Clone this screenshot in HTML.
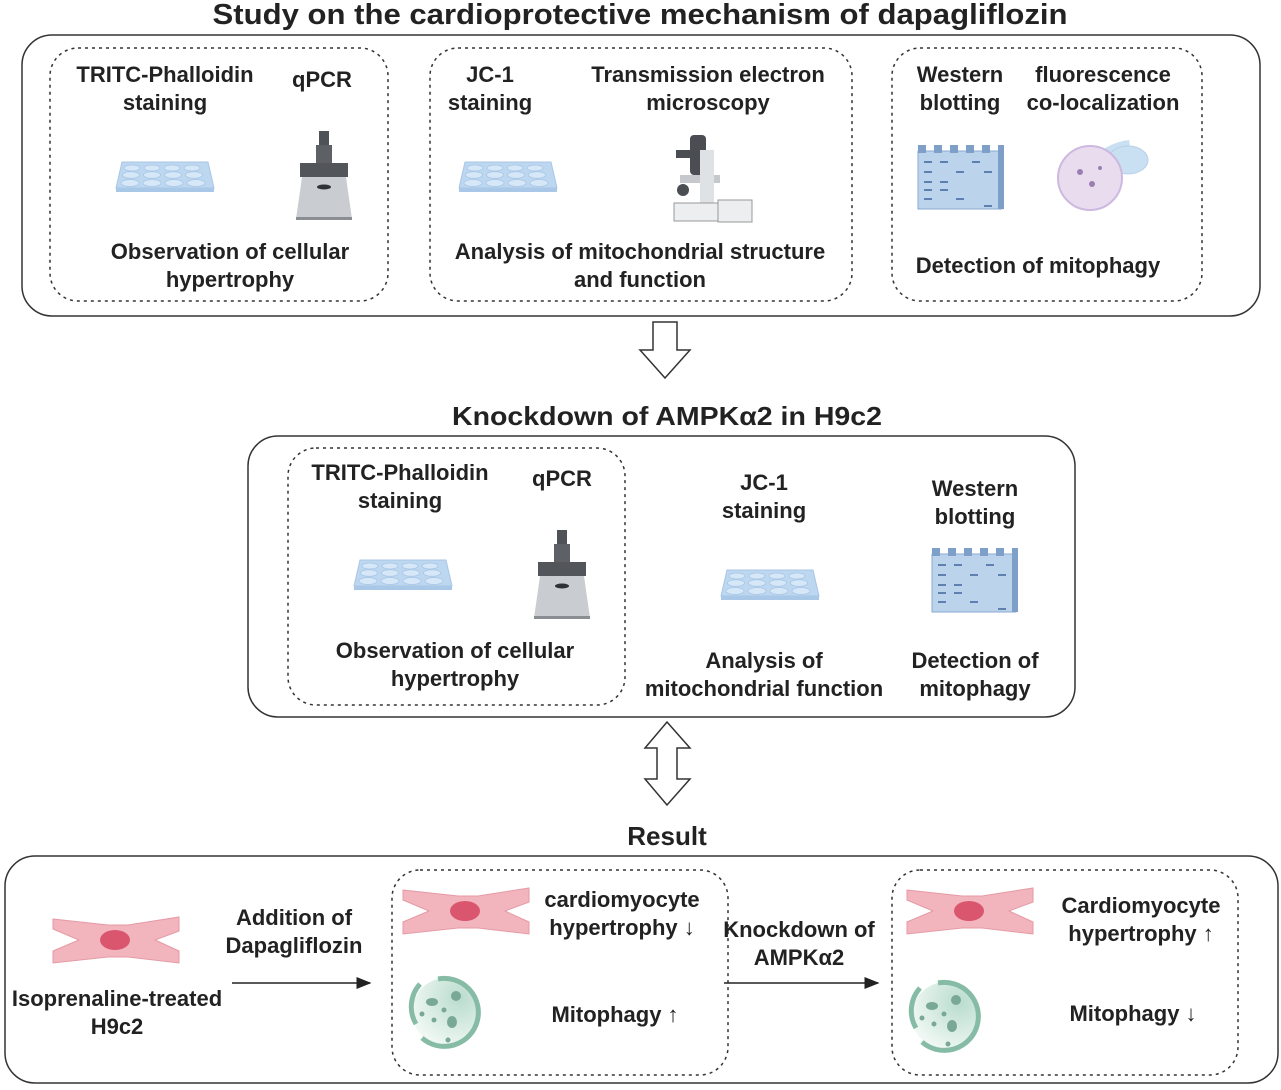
<!DOCTYPE html>
<html><head><meta charset="utf-8"><style>
body{margin:0;background:#fff}
svg text{font-family:"Liberation Sans",sans-serif;font-weight:bold;fill:#222;text-anchor:middle}
</style></head><body>
<svg width="1281" height="1085" viewBox="0 0 1281 1085" xmlns="http://www.w3.org/2000/svg">
<defs>
<radialGradient id="mg" cx="0.7" cy="0.3" r="0.8"><stop offset="0" stop-color="#b9dccd"/><stop offset="1" stop-color="#f4faf7"/></radialGradient>
<g id="plate"><path d="M0 0 L86 0 L92 26 L-6 26 Z" fill="#bcd7ef" stroke="#a8c6e6"/>
<rect x="-6" y="26" width="98" height="4" fill="#a9c7e6"/>
<g fill="#d6e8f8" stroke="#a8c6e6" stroke-width="0.8">
<ellipse cx="10" cy="6" rx="8" ry="3"/><ellipse cx="30" cy="6" rx="8" ry="3"/><ellipse cx="50" cy="6" rx="8" ry="3"/><ellipse cx="70" cy="6" rx="8" ry="3"/>
<ellipse cx="9" cy="13" rx="8.5" ry="3.3"/><ellipse cx="30" cy="13" rx="8.5" ry="3.3"/><ellipse cx="51" cy="13" rx="8.5" ry="3.3"/><ellipse cx="72" cy="13" rx="8.5" ry="3.3"/>
<ellipse cx="8" cy="21" rx="9" ry="3.5"/><ellipse cx="30" cy="21" rx="9" ry="3.5"/><ellipse cx="52" cy="21" rx="9" ry="3.5"/><ellipse cx="74" cy="21" rx="9" ry="3.5"/></g></g>
<g id="qpcr"><rect x="19" y="0" width="10" height="14" fill="#4f5358"/><rect x="16" y="14" width="16" height="18" fill="#5d6166"/>
<rect x="0" y="32" width="48" height="14" fill="#52565b"/><path d="M2 46 L46 46 L52 88 L-4 88 Z" fill="#c9ccd0"/>
<ellipse cx="24" cy="56" rx="7" ry="2.5" fill="#2f3236"/><rect x="-4" y="86" width="56" height="3" fill="#8a8d91"/></g>
<g id="wb"><rect x="0" y="6" width="84" height="58" fill="#bcd3ec" stroke="#8aaad0"/>
<path d="M0 0h8v8h-8zM16 0h8v8h-8zM32 0h8v8h-8zM48 0h8v8h-8zM64 0h8v8h-8z" fill="#7e9fc8"/>
<rect x="80" y="0" width="6" height="64" fill="#7e9fc8"/>
<g fill="#5f7fb0"><rect x="6" y="16" width="8" height="2"/><rect x="22" y="16" width="8" height="2"/><rect x="54" y="16" width="8" height="2"/><rect x="6" y="26" width="8" height="2"/><rect x="38" y="26" width="8" height="2"/><rect x="66" y="26" width="8" height="2"/><rect x="6" y="36" width="8" height="2"/><rect x="22" y="36" width="8" height="2"/><rect x="6" y="44" width="8" height="2"/><rect x="22" y="44" width="8" height="2"/><rect x="6" y="53" width="8" height="2"/><rect x="38" y="53" width="8" height="2"/><rect x="66" y="60" width="8" height="2"/></g></g>
<g id="cell"><path d="M0 2 L55 8 L75 8 L126 0 L126 14 L102 23 L126 34 L126 46 L75 40 L55 40 L0 46 L0 34 L26 23 L0 12 Z" fill="#f2b5bd" stroke="#e59aa5"/>
<ellipse cx="62" cy="23" rx="15" ry="10" fill="#d9566e"/></g>
<g id="mito"><circle cx="38" cy="38" r="34" fill="url(#mg)"/>
<path d="M30 5 A34 34 0 1 1 14 64" fill="none" stroke="#86bca6" stroke-width="5"/>
<path d="M12 10 A34 34 0 0 0 8 50" fill="none" stroke="#86bca6" stroke-width="5"/>
<g fill="#7aa896"><ellipse cx="24" cy="28" rx="6" ry="4"/><ellipse cx="44" cy="48" rx="5" ry="6"/><ellipse cx="48" cy="22" rx="5" ry="5"/><circle cx="14" cy="40" r="2.5"/><circle cx="26" cy="46" r="2.5"/><circle cx="36" cy="36" r="2.5"/><circle cx="40" cy="66" r="2.5"/></g></g>
<marker id="ah" markerWidth="10" markerHeight="10" refX="9" refY="5" orient="auto"><path d="M0 1 L10 5 L0 9 Z" fill="#222"/></marker>
</defs>

<text x="640" y="24" font-size="29" textLength="855" lengthAdjust="spacingAndGlyphs">Study on the  cardioprotective mechanism of  dapagliflozin</text>
<rect x="22" y="35" width="1238" height="281" rx="30" fill="none" stroke="#333" stroke-width="1.5"/>
<g fill="none" stroke="#333" stroke-width="1.5" stroke-dasharray="3,4">
<rect x="50" y="48" width="338" height="253" rx="28"/>
<rect x="430" y="48" width="422" height="253" rx="28"/>
<rect x="892" y="48" width="310" height="253" rx="28"/>
<rect x="288" y="448" width="337" height="257" rx="28"/>
<rect x="392" y="870" width="336" height="205" rx="28"/>
<rect x="892" y="870" width="346" height="205" rx="28"/>
</g>
<g font-size="22">
<text x="165" y="82">TRITC-Phalloidin</text><text x="165" y="110">staining</text>
<text x="322" y="87">qPCR</text>
<text x="230" y="259">Observation of cellular</text><text x="230" y="287">hypertrophy</text>
<text x="490" y="82">JC-1</text><text x="490" y="110">staining</text>
<text x="708" y="82">Transmission electron</text><text x="708" y="110">microscopy</text>
<text x="640" y="259">Analysis of mitochondrial structure</text><text x="640" y="287">and function</text>
<text x="960" y="82">Western</text><text x="960" y="110">blotting</text>
<text x="1103" y="82">fluorescence</text><text x="1103" y="110">co-localization</text>
<text x="1038" y="273">Detection of mitophagy</text>
</g>
<use href="#plate" x="122" y="162"/>
<use href="#qpcr" x="300" y="131"/>
<use href="#plate" x="465" y="162"/>
<!-- microscope -->
<g fill="#4a4e53"><rect x="690" y="135" width="16" height="40" rx="4"/><rect x="676" y="150" width="20" height="8"/><rect x="680" y="175" width="40" height="8" fill="#c5c9cd"/><rect x="700" y="150" width="14" height="55" fill="#dfe2e5"/><rect x="674" y="203" width="50" height="18" fill="#eceef0" stroke="#999"/><rect x="718" y="200" width="34" height="22" fill="#eceef0" stroke="#999"/><circle cx="683" cy="190" r="6"/></g>
<use href="#wb" x="918" y="145"/>
<g><path d="M1090 170 Q1110 150 1130 148" stroke="#c9dff2" stroke-width="16" fill="none"/><ellipse cx="1128" cy="160" rx="20" ry="14" fill="#c9dff2" stroke="#b8cfe8"/><circle cx="1090" cy="178" r="32" fill="#e9dcef" stroke="#cdb9e0" stroke-width="2"/><g fill="#9b7fb3"><circle cx="1080" cy="172" r="3"/><circle cx="1092" cy="184" r="3"/><circle cx="1100" cy="168" r="2"/></g></g>

<path d="M653 322 L677 322 L677 350 L690 350 L665 378 L640 350 L653 350 Z" fill="#fff" stroke="#333" stroke-width="1.5"/>

<text x="667" y="425" font-size="26" textLength="430" lengthAdjust="spacingAndGlyphs">Knockdown of  AMPKα2 in H9c2</text>
<rect x="248" y="436" width="827" height="281" rx="30" fill="none" stroke="#333" stroke-width="1.5"/>
<g font-size="22">
<text x="400" y="480">TRITC-Phalloidin</text><text x="400" y="508">staining</text>
<text x="562" y="486">qPCR</text>
<text x="455" y="658">Observation of cellular</text><text x="455" y="686">hypertrophy</text>
<text x="764" y="490">JC-1</text><text x="764" y="518">staining</text>
<text x="764" y="668">Analysis of</text><text x="764" y="696">mitochondrial function</text>
<text x="975" y="496">Western</text><text x="975" y="524">blotting</text>
<text x="975" y="668">Detection of</text><text x="975" y="696">mitophagy</text>
</g>
<use href="#plate" x="360" y="560"/>
<use href="#qpcr" x="538" y="530"/>
<use href="#plate" x="727" y="570"/>
<use href="#wb" x="932" y="548"/>

<path d="M667 722 L690 748 L677 748 L677 779 L690 779 L667 805 L645 779 L657 779 L657 748 L645 748 Z" fill="#fff" stroke="#333" stroke-width="1.5"/>

<text x="667" y="845" font-size="26">Result</text>
<rect x="5" y="856" width="1273" height="227" rx="30" fill="none" stroke="#333" stroke-width="1.5"/>
<use href="#cell" x="53" y="917"/>
<use href="#cell" x="403" y="888"/>
<use href="#cell" x="907" y="888"/>
<use href="#mito" x="408" y="974"/>
<use href="#mito" x="908" y="978"/>
<g font-size="22">
<text x="117" y="1006">Isoprenaline-treated</text><text x="117" y="1034">H9c2</text>
<text x="294" y="925">Addition of</text><text x="294" y="953">Dapagliflozin</text>
<text x="622" y="907">cardiomyocyte</text><text x="622" y="935">hypertrophy ↓</text>
<text x="615" y="1022">Mitophagy ↑</text>
<text x="799" y="937">Knockdown of</text><text x="799" y="965">AMPKα2</text>
<text x="1141" y="913">Cardiomyocyte</text><text x="1141" y="941">hypertrophy ↑</text>
<text x="1133" y="1021">Mitophagy ↓</text>
</g>
<line x1="232" y1="983" x2="370" y2="983" stroke="#222" stroke-width="1.5" marker-end="url(#ah)"/>
<line x1="724" y1="983" x2="878" y2="983" stroke="#222" stroke-width="1.5" marker-end="url(#ah)"/>
</svg>
</body></html>
